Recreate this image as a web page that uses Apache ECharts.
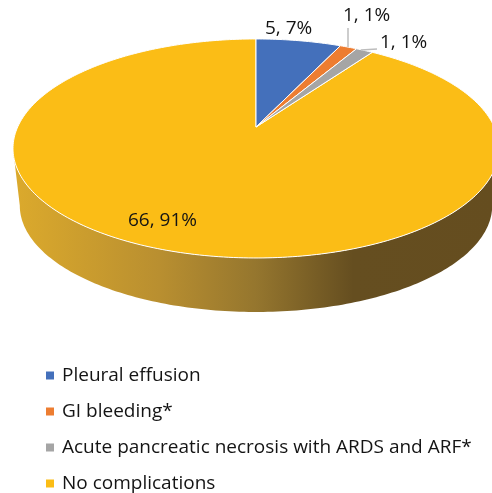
<!DOCTYPE html>
<html>
<head>
<meta charset="utf-8">
<style>
html, body { margin: 0; padding: 0; background: #fff; }
#chart { width: 492px; height: 493px; }
</style>
<script src="https://cdn.jsdelivr.net/npm/echarts@6/dist/echarts.min.js"></script>
</head>
<body>
<div id="chart"></div>
<script>
var categories = ['Pleural effusion', 'GI bleeding*', 'Acute pancreatic necrosis with ARDS and ARF*', 'No complications'];
var values = [5, 1, 1, 66];
var percents = [7, 1, 1, 91];
var colors = ['#4470bb', '#ed7d31', '#a5a5a5', '#fbbd16'];

var myChart = echarts.init(document.getElementById('chart'));

var total = values.reduce(function(a, b){ return a + b; }, 0);
var font = '"Open Sans", "Noto Sans", sans-serif';

// perspective of the tilted disc, fitted to the picture
var apexX = 256, apexY = 127;
var tilt = 0.196, radiusX = 238.3, radiusY = 105.3;
var depthScale = 0.972, depthShift = 57.7;

// angle is clockwise from 12 o'clock; lower=true gives the bottom face
function project(angle, lower){
    var u = Math.sin(angle), v = Math.cos(angle);
    var w = 1 + tilt * v;
    var x = radiusX * u / w, y = -radiusY * v / w;
    if (lower) {
        return [apexX + x * depthScale, apexY + y * depthScale + depthShift];
    }
    return [apexX + x, apexY + y];
}

function arc(from, to, lower){
    var pts = [], steps = Math.max(8, Math.ceil(Math.abs(to - from) * 60));
    for (var i = 0; i <= steps; i++) {
        pts.push(project(from + (to - from) * i / steps, lower));
    }
    return pts;
}

function startAngle(index){
    var sum = 0;
    for (var i = 0; i < index; i++) sum += values[i];
    return sum / total * Math.PI * 2;
}

function textEl(text, x, y, size){
    return {
        type: 'text',
        style: {
            text: text, x: x, y: y, fill: '#141414',
            font: size + 'px ' + font,
            textAlign: 'left', textVerticalAlign: 'middle'
        }
    };
}

function line(x1, y1, x2, y2){
    return {
        type: 'line',
        shape: {x1: x1, y1: y1, x2: x2, y2: y2},
        style: {stroke: '#bdbdbd', lineWidth: 1.5}
    };
}

// label place and leader line of each slice
var labelPos = [[265, 29], [343, 16], [380, 43], [128, 221]];
var leaders = [null, [348, 47, 348, 28], [361, 50, 377, 49], null];

function sliceRender(index){
    return function(params, api){
        var a0 = startAngle(index), a1 = startAngle(index + 1);
        var pts = [[apexX, apexY]].concat(arc(a0, a1, false));
        var children = [{
            type: 'polygon',
            shape: {points: pts},
            style: {fill: api.visual('color'), stroke: '#fff', lineWidth: 1, lineJoin: 'round'}
        }];
        if (leaders[index]) {
            var l = leaders[index];
            children.push(line(l[0], l[1], l[2], l[3]));
        }
        children.push(textEl(values[index] + ', ' + percents[index] + '%', labelPos[index][0], labelPos[index][1], 19));
        return {type: 'group', children: children};
    };
}

// visible rim of the disc, front half between the two silhouette points
function wallRender(){
    var side = Math.acos(-tilt);
    var a0 = side, a1 = Math.PI * 2 - side;
    var pts = arc(a0, a1, false).concat(arc(a1, a0, true));
    return {
        type: 'polygon',
        shape: {points: pts},
        style: {
            fill: new echarts.graphic.LinearGradient(0, 0, 1, 0, [
                {offset: 0, color: '#dcaa2c'},
                {offset: 0.3, color: '#b98f30'},
                {offset: 0.5, color: '#95762e'},
                {offset: 0.7, color: '#654e20'},
                {offset: 1, color: '#654d1f'}
            ])
        }
    };
}

var series = [{
    type: 'custom',
    name: 'wall',
    coordinateSystem: 'none',
    renderItem: wallRender,
    data: [total],
    silent: true,
    z: 1
}];

categories.forEach(function(name, i){
    series.push({
        type: 'custom',
        name: name,
        coordinateSystem: 'none',
        renderItem: sliceRender(i),
        data: [values[i]],
        itemStyle: {color: colors[i]},
        z: i == 3 ? 2 : 3
    });
});

var option = {
    backgroundColor: '#fff',
    animation: false,
    legend: {
        data: categories,
        orient: 'vertical',
        left: 46,
        top: 366,
        height: 200,
        padding: 0,
        icon: 'rect',
        itemWidth: 8,
        itemHeight: 8,
        itemGap: 17,
        selectedMode: false,
        textStyle: {fontFamily: font, fontSize: 19, color: '#141414', padding: [0, 0, 0, 3]}
    },
    series: series
};

myChart.setOption(option);
</script>
</body>
</html>
